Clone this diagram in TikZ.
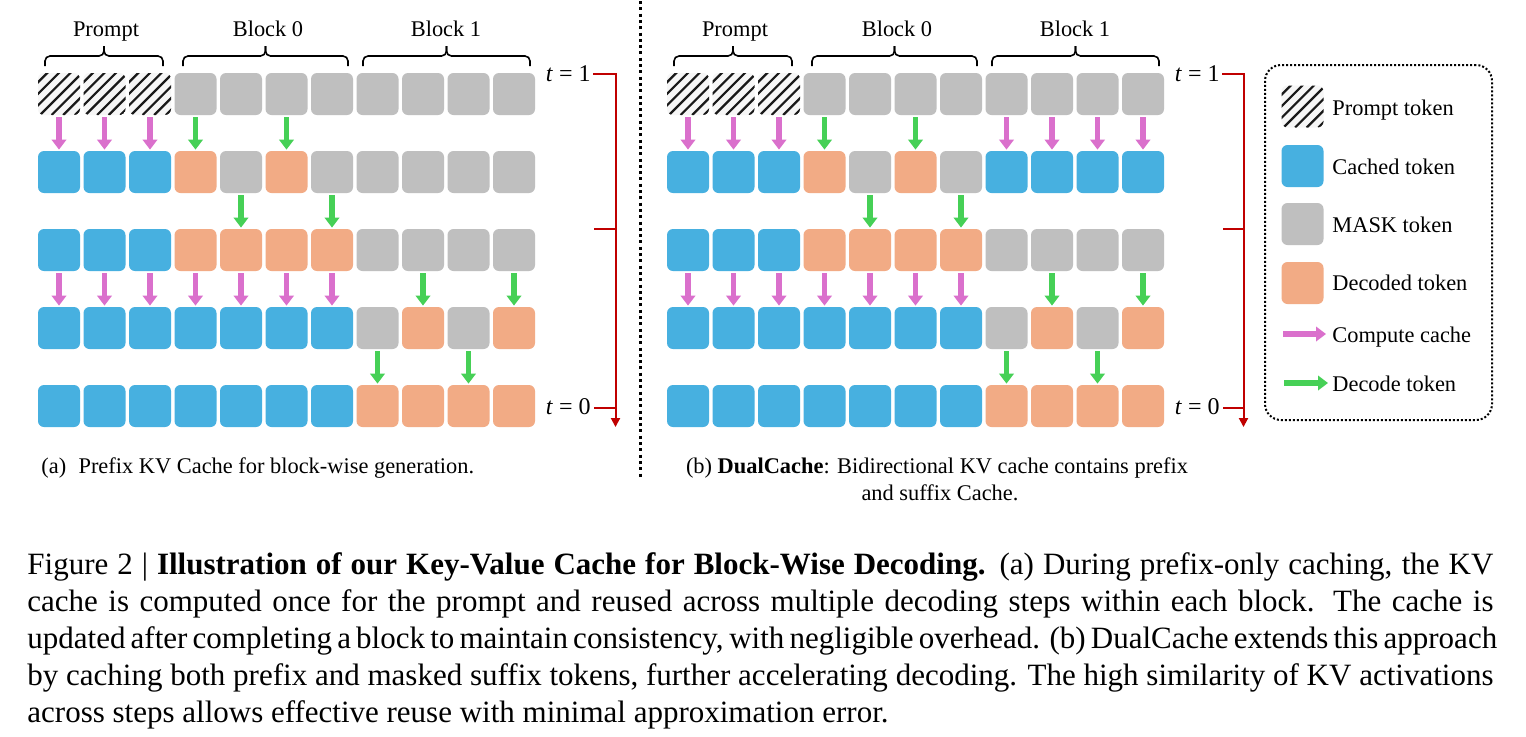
\documentclass[tikz,border=0pt]{standalone}
\usepackage{fontspec}
\setmainfont{Liberation Serif}
\usetikzlibrary{arrows.meta}
\definecolor{tokblue}{RGB}{71,176,224}
\definecolor{tokgray}{RGB}{191,191,191}
\definecolor{tokorange}{RGB}{242,171,133}
\definecolor{arrpink}{RGB}{218,112,204}
\definecolor{arrgreen}{RGB}{70,208,86}
\definecolor{tred}{RGB}{192,0,0}
\definecolor{hatchbg}{RGB}{246,246,246}
\tikzset{
  tok/.style={rectangle, rounded corners=3pt, minimum width=21pt, minimum height=21pt, inner sep=0pt, draw=none},
  tB/.style={tok, fill=tokblue},
  tG/.style={tok, fill=tokgray},
  tO/.style={tok, fill=tokorange},
  tH/.style={tok, fill=hatchbg, path picture={
      \coordinate (hsw) at (path picture bounding box.south west);
      \foreach \k in {-5,...,5} \draw[line width=1.1pt, black!90] ([xshift=\k*5.8pt+1pt]hsw) -- ++(60,-60);}},
  pk/.style={draw=arrpink, line width=2.7pt, -{Triangle[width=7.2pt,length=5pt]}, shorten <=1pt, shorten >=0.5pt},
  gr/.style={draw=arrgreen, line width=2.7pt, -{Triangle[width=7.2pt,length=5pt]}, shorten <=1pt, shorten >=0.5pt},
  lbl/.style={font=\fontsize{11.2}{13}\selectfont, inner sep=0pt},
  tlbl/.style={font=\fontsize{12}{14}\selectfont, inner sep=0pt},
  figcap/.style={font=\fontsize{15.5}{18}\selectfont, inner sep=0pt, anchor=base west},
  redl/.style={draw=tred, line width=1pt},
  brc/.style={line width=0.8pt, rounded corners=2.5pt},
}
\newcommand\tokrow[5]{\foreach \s [count=\i] in {#5} {\node[\s] (#1#2-\i) at ({#4+45.5*(\i-1)},#3) {};}}
\newcommand\tokarr[5]{\foreach \c in {#5} {\draw[#4] (#1#2-\c.south) -- (#1#3-\c.north);}}
\newcommand\tbrace[2]{%
  \draw[brc] (#1,66) -- (#1,56) -- ({(#1+#2)/2},56) -- ({(#1+#2)/2},46);
  \draw[brc] (#2,66) -- (#2,56) -- ({(#1+#2)/2},56) -- ({(#1+#2)/2},46);}
\begin{document}
\begin{tikzpicture}[x=0.5pt,y=-0.5pt]
\useasboundingbox[fill=white] (0,0) rectangle (1526,736);

% ---------------- panel (a)
\tokrow{a}{1}{94}{59}{tH,tH,tH,tG,tG,tG,tG,tG,tG,tG,tG}
\tokrow{a}{2}{172}{59}{tB,tB,tB,tO,tG,tO,tG,tG,tG,tG,tG}
\tokrow{a}{3}{250}{59}{tB,tB,tB,tO,tO,tO,tO,tG,tG,tG,tG}
\tokrow{a}{4}{328}{59}{tB,tB,tB,tB,tB,tB,tB,tG,tO,tG,tO}
\tokrow{a}{5}{406}{59}{tB,tB,tB,tB,tB,tB,tB,tO,tO,tO,tO}
\tokarr{a}{1}{2}{pk}{1,2,3}
\tokarr{a}{1}{2}{gr}{4,6}
\tokarr{a}{2}{3}{gr}{5,7}
\tokarr{a}{3}{4}{pk}{1,2,3,4,5,6,7}
\tokarr{a}{3}{4}{gr}{9,11}
\tokarr{a}{4}{5}{gr}{8,10}

% ---------------- panel (b)
\tokrow{b}{1}{94}{688}{tH,tH,tH,tG,tG,tG,tG,tG,tG,tG,tG}
\tokrow{b}{2}{172}{688}{tB,tB,tB,tO,tG,tO,tG,tB,tB,tB,tB}
\tokrow{b}{3}{250}{688}{tB,tB,tB,tO,tO,tO,tO,tG,tG,tG,tG}
\tokrow{b}{4}{328}{688}{tB,tB,tB,tB,tB,tB,tB,tG,tO,tG,tO}
\tokrow{b}{5}{406}{688}{tB,tB,tB,tB,tB,tB,tB,tO,tO,tO,tO}
\tokarr{b}{1}{2}{pk}{1,2,3,8,9,10,11}
\tokarr{b}{1}{2}{gr}{4,6}
\tokarr{b}{2}{3}{gr}{5,7}
\tokarr{b}{3}{4}{pk}{1,2,3,4,5,6,7}
\tokarr{b}{3}{4}{gr}{9,11}
\tokarr{b}{4}{5}{gr}{8,10}

% ---------------- braces and labels
\tbrace{45}{163}  \node[lbl, anchor=base] (la1) at (106,36) {Prompt};
\tbrace{183}{348} \node[lbl, anchor=base] (la2) at (268,36) {Block 0};
\tbrace{363}{530} \node[lbl, anchor=base] (la3) at (446,36) {Block 1};
\tbrace{674}{792} \node[lbl, anchor=base] (lb1) at (735,36) {Prompt};
\tbrace{812}{977} \node[lbl, anchor=base] (lb2) at (897,36) {Block 0};
\tbrace{992}{1159} \node[lbl, anchor=base] (lb3) at (1075,36) {Block 1};

% ---------------- time axes
\node[tlbl, anchor=base east] (ta1) at (591,81) {\textit{t} = 1};
\node[tlbl, anchor=base east] (ta0) at (591,414) {\textit{t} = 0};
\coordinate (tam) at (594,229);
\draw[redl, -{Triangle[width=4.5pt,length=4.5pt]}] ([xshift=1pt]ta1.east |- 0,74) -- (615.5,74) -- (615.5,427);
\draw[redl] ([xshift=1.5pt]ta0.east |- 0,408) -- (615.5,408);
\draw[redl] (tam) -- (615.5,229);

\node[tlbl, anchor=base east] (tb1) at (1220,81) {\textit{t} = 1};
\node[tlbl, anchor=base east] (tb0) at (1220,414) {\textit{t} = 0};
\coordinate (tbm) at (1223,229);
\draw[redl, -{Triangle[width=4.5pt,length=4.5pt]}] ([xshift=1pt]tb1.east |- 0,74) -- (1243.5,74) -- (1243.5,427);
\draw[redl] ([xshift=1.5pt]tb0.east |- 0,408) -- (1243.5,408);
\draw[redl] (tbm) -- (1243.5,229);

% ---------------- separator
\coordinate (sep1) at (640,1);
\coordinate (sep2) at (640,478);
\draw[line width=1.5pt, dash pattern=on 1.5pt off 1.65pt] (sep1) -- (sep2);

% ---------------- legend
\node[draw, line width=1pt, dash pattern=on 1pt off 1pt, rounded corners=8pt,
      minimum width=113.5pt, minimum height=177.5pt, inner sep=0pt] (legend) at (1378.5,242.5) {};
\node[tH] (lgH) at (1302.5,106.5) {};
\node[tB] (lgB) at (1302.5,166) {};
\node[tG] (lgG) at (1302.5,224) {};
\node[tO] (lgO) at (1302.5,283) {};
\coordinate (lgp1) at (1283,334); \coordinate (lgp2) at (1326,334);
\coordinate (lgg1) at (1284,383); \coordinate (lgg2) at (1328,383);
\draw[pk, shorten <=0pt, shorten >=0pt] (lgp1) -- (lgp2);
\draw[gr, shorten <=0pt, shorten >=0pt] (lgg1) -- (lgg2);
\node[lbl, anchor=base west] (lt1) at (1332,115) {Prompt token};
\node[lbl, anchor=base west] (lt2) at (1332,174) {Cached token};
\node[lbl, anchor=base west] (lt3) at (1332,232) {MASK token};
\node[lbl, anchor=base west] (lt4) at (1332,290) {Decoded token};
\node[lbl, anchor=base west] (lt5) at (1332,342) {Compute cache};
\node[lbl, anchor=base west] (lt6) at (1332,391) {Decode token};

% ---------------- panel captions
\node[lbl, anchor=base west] (capa) at (41,473) {(a)\hspace{0.55em}Prefix KV Cache for block-wise generation.};
\node[lbl, anchor=base] (capb1) at (937,473) {(b) \textbf{DualCache}: Bidirectional KV cache contains prefix};
\node[lbl, anchor=base] (capb2) at (940,500) {and suffix Cache.};

% ---------------- figure caption
\node[figcap] (fc1) at (27,574) {\makebox[733pt][s]{Figure 2 | \textbf{Illustration of our Key-Value Cache for Block-Wise Decoding.} (a) During prefix-only caching, the KV}};
\node[figcap] (fc2) at (27,611) {\makebox[733pt][s]{cache is computed once for the prompt and reused across multiple decoding steps within each block. The cache is}};
\node[figcap] (fc3) at (27,648) {\makebox[733pt][s]{updated after completing a block to maintain consistency, with negligible overhead. (b) DualCache extends this approach}};
\node[figcap] (fc4) at (27,685) {\makebox[733pt][s]{by caching both prefix and masked suffix tokens, further accelerating decoding. The high similarity of KV activations}};
\node[figcap] (fc5) at (27,722) {across steps allows effective reuse with minimal approximation error.};
\end{tikzpicture}
\end{document}
